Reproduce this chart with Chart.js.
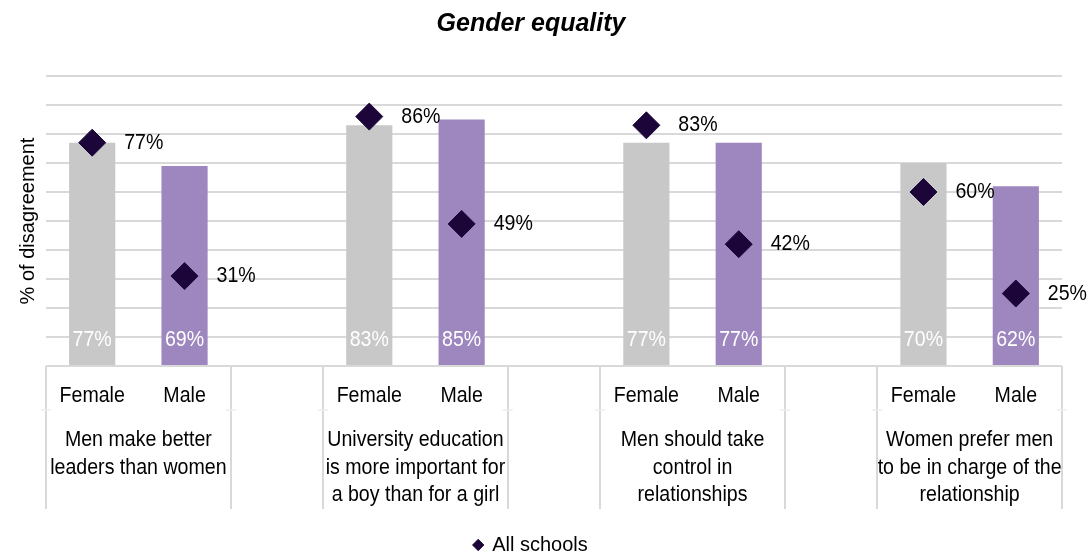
<!DOCTYPE html>
<html>
<head>
<meta charset="utf-8">
<script src="https://cdn.jsdelivr.net/npm/chart.js@4"></script>
<style>
  html, body { margin: 0; padding: 0; background: #ffffff; }
  #wrap { width: 1089px; height: 554px; }
</style>
</head>
<body>
<div id="wrap"><canvas id="chart"></canvas></div>
<script>
// Category slots: Female / Male per statement, with an empty slot between statements
const categories = ['Female', 'Male', '', 'Female', 'Male', '', 'Female', 'Male', '', 'Female', 'Male'];
const statements = [
  ['Men make better', 'leaders than women'],
  ['University education', 'is more important for', 'a boy than for a girl'],
  ['Men should take', 'control in', 'relationships'],
  ['Women prefer men', 'to be in charge of the', 'relationship']
];
// % of disagreement per statement
const femaleValues = [77, 83, 77, 70];
const maleValues = [69, 85, 77, 62];
// All schools reference values (female slot, male slot)
const allSchoolsFemale = [77, 86, 83, 60];
const allSchoolsMale = [31, 49, 42, 25];
const yMin = 0;
const yMax = 100;
const yStep = 10;

const FONT = "'Liberation Sans', Arial, sans-serif";
const TEXT_SIZE = 20;
const LABEL_SIZE = 22;      // plugin-drawn labels use a slightly condensed face
const LABEL_STRETCH = 0.89;
const FEMALE_COLOR = '#C8C8C8';
const MALE_COLOR = '#9E87BF';
const DIAMOND_COLOR = '#1C0538';
const GRID_COLOR = '#D9D9D9';

// Spread the per-statement values over the slot layout
function toSlots(fem, mal) {
  const out = [];
  fem.forEach((f, i) => {
    out.push(f, mal[i]);
    if (i < fem.length - 1) out.push(null);
  });
  return out;
}
const barData = toSlots(femaleValues, maleValues);
const pointData = toSlots(allSchoolsFemale, allSchoolsMale);
const barColors = categories.map(c => c === 'Female' ? FEMALE_COLOR : c === 'Male' ? MALE_COLOR : 'rgba(0,0,0,0)');

// Draw a narrowed text run anchored at (x, y)
function narrowText(ctx, text, x, y) {
  ctx.save();
  ctx.translate(x, y);
  ctx.scale(LABEL_STRETCH, 1);
  ctx.fillText(text, 0, 0);
  ctx.restore();
}

// Value labels: white inside the bar foot, black to the right of each diamond
const valueLabels = {
  id: 'valueLabels',
  afterDatasetsDraw(chart) {
    const ctx = chart.ctx;
    const yScale = chart.scales.y;
    ctx.save();
    ctx.font = LABEL_SIZE + 'px ' + FONT;
    ctx.textBaseline = 'middle';
    const barMeta = chart.getDatasetMeta(1);
    ctx.textAlign = 'center';
    ctx.fillStyle = '#ffffff';
    barMeta.data.forEach((el, i) => {
      const v = barData[i];
      if (v == null) return;
      narrowText(ctx, v + '%', el.x, yScale.bottom - 26);
    });
    const ptMeta = chart.getDatasetMeta(0);
    ctx.textAlign = 'left';
    ctx.fillStyle = '#000000';
    ptMeta.data.forEach((el, i) => {
      const v = pointData[i];
      if (v == null) return;
      narrowText(ctx, v + '%', el.x + 32, el.y);
    });
    ctx.restore();
  }
};

// Two-tier category axis: Female/Male row, statement row, with separators
const groupedAxis = {
  id: 'groupedAxis',
  afterDraw(chart) {
    const ctx = chart.ctx;
    const x = chart.scales.x;
    const top = x.top;
    const bottom = top + 143;
    const half = (x.getPixelForValue(1) - x.getPixelForValue(0)) / 2;
    ctx.save();
    ctx.strokeStyle = GRID_COLOR;
    ctx.lineWidth = 2;
    const edges = [];
    statements.forEach((s, g) => {
      edges.push(x.getPixelForValue(3 * g) - half);
      edges.push(x.getPixelForValue(3 * g + 1) + half);
    });
    edges.forEach(px => {
      ctx.beginPath();
      ctx.moveTo(Math.round(px), top);
      ctx.lineTo(Math.round(px), bottom);
      ctx.stroke();
    });
    ctx.strokeStyle = '#EDEDED';
    ctx.lineWidth = 1.5;
    edges.forEach(px => {
      ctx.beginPath();
      ctx.moveTo(px - 5, top + 44);
      ctx.lineTo(px + 5, top + 44);
      ctx.stroke();
    });
    ctx.fillStyle = '#000000';
    ctx.font = LABEL_SIZE + 'px ' + FONT;
    ctx.textAlign = 'center';
    ctx.textBaseline = 'middle';
    categories.forEach((c, i) => {
      if (c) narrowText(ctx, c, x.getPixelForValue(i), top + 29.5);
    });
    statements.forEach((lines, g) => {
      const cx = (x.getPixelForValue(3 * g) + x.getPixelForValue(3 * g + 1)) / 2;
      lines.forEach((line, k) => {
        narrowText(ctx, line, cx, top + 74 + k * 27.5);
      });
    });
    ctx.restore();
  }
};

new Chart(document.getElementById('chart'), {
  type: 'bar',
  data: {
    labels: categories,
    datasets: [
      {
        type: 'line',
        label: 'All schools',
        data: pointData,
        showLine: false,
        pointStyle: 'rectRot',
        pointRadius: 13.5,
        pointHoverRadius: 13.5,
        pointBackgroundColor: DIAMOND_COLOR,
        pointBorderColor: DIAMOND_COLOR,
        pointBorderWidth: 1,
        backgroundColor: DIAMOND_COLOR,
        borderColor: DIAMOND_COLOR,
        order: 0
      },
      {
        type: 'bar',
        label: 'Rate',
        data: barData,
        backgroundColor: barColors,
        borderWidth: 0,
        barPercentage: 0.5,
        categoryPercentage: 1,
        order: 1
      }
    ]
  },
  options: {
    responsive: true,
    maintainAspectRatio: false,
    animation: false,
    devicePixelRatio: 1,
    layout: { padding: { left: 0, right: 27, top: 0, bottom: -11 } },
    scales: {
      x: {
        grid: { display: false, drawTicks: false },
        border: { display: false },
        ticks: { display: false },
        afterFit(scale) { scale.height = 169; }
      },
      y: {
        min: yMin,
        max: yMax,
        ticks: { display: false, stepSize: yStep },
        grid: { color: GRID_COLOR, lineWidth: 2, drawTicks: false },
        border: { display: false },
        title: {
          display: true,
          text: '% of disagreement',
          color: '#000000',
          font: { family: FONT, size: TEXT_SIZE },
          padding: { top: 16, bottom: 0 }
        },
        afterFit(scale) { scale.width = 46; }
      }
    },
    plugins: {
      title: {
        display: true,
        text: 'Gender equality',
        color: '#000000',
        font: { family: FONT, size: 25, weight: 'bold', style: 'italic' },
        padding: { top: 9, bottom: 37 }
      },
      legend: {
        position: 'bottom',
        labels: {
          usePointStyle: true,
          boxWidth: 8,
          boxHeight: 8,
          color: '#000000',
          font: { family: FONT, size: TEXT_SIZE },
          padding: 0,
          filter: item => item.datasetIndex === 0
        }
      },
      tooltip: { enabled: false }
    }
  },
  plugins: [valueLabels, groupedAxis]
});
</script>
</body>
</html>
